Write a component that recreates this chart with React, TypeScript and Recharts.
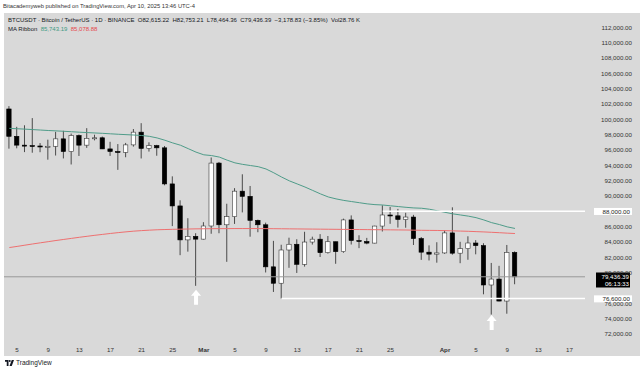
import React from 'react'
import { ComposedChart, Bar, Line, XAxis, YAxis, ReferenceLine, ReferenceDot } from 'recharts'

// daily candles, Feb 4 -> Apr 10 2025
const firstDay = '2025-02-04'
const open = [
  101328, 97763, 96612, 96554, 96500, 96444, 96462, 97430, 95778, 97870, 96608, 97500, 97569, 96118, 95780, 95671, 96644, 98305, 96181, 96551, 96258, 91552, 88680, 84250, 84708,
  84349, 86064, 94270, 86221, 87281, 90606, 89931, 86801, 86222, 80735, 78595, 82932, 83680, 81066, 83969, 84343, 82580, 84010, 82716, 86855, 84167, 84043, 83832, 86054, 87499, 87391, 86909, 87232, 84424, 82649, 82390,
  82550, 85159, 82516, 83102, 83844, 83504, 78368, 79140, 76271, 82615,
]
const high = [
  101700, 99000, 99200, 100137, 96880, 97323, 98345, 98478, 98119, 98000, 98826, 97970, 97732, 97046, 96753, 96899, 98711, 99475, 96980, 96650, 96500, 92540, 89414, 87078, 85120,
  86558, 95000, 94416, 88967, 91000, 92810, 91283, 86897, 86500, 84123, 83617, 84539, 84336, 85309, 84672, 85000, 84756, 84021, 87021, 87443, 84850, 84513, 86094, 88765, 88542, 88292, 87786, 87515, 84624, 83534, 83943,
  85487, 88500, 83998, 84720, 84220, 83818, 81243, 80867, 83588, 82753,
]
const low = [
  96150, 96200, 95700, 95620, 95688, 94713, 95256, 94876, 94088, 95200, 96252, 97233, 96101, 95205, 93388, 95029, 96415, 94871, 95770, 95227, 91371, 86050, 82256, 82716, 78258,
  84300, 85050, 85117, 81390, 86334, 87836, 84667, 85248, 80000, 77459, 76606, 80607, 79939, 80766, 83639, 82017, 82457, 81134, 82569, 83647, 83175, 83675, 83795, 85346, 86346, 85861, 85837, 83585, 81644, 81565, 81278,
  82433, 82320, 81211, 81659, 82368, 77153, 74508, 76239, 74620, 78464,
]
const close = [
  97763, 96612, 96554, 96500, 96444, 96462, 97430, 95778, 97870, 96608, 97500, 97569, 96118, 95780, 95671, 96644, 98305, 96181, 96551, 96258, 91552, 88680, 84250, 84708, 84349,
  86064, 94270, 86221, 87281, 90606, 89931, 86801, 86222, 80735, 78595, 82932, 83680, 81066, 83969, 84343, 82580, 84010, 82716, 86855, 84167, 84043, 83832, 86054, 87499, 87391, 86909, 87232, 84424, 82649, 82390, 82550,
  85159, 82516, 83102, 83843, 83504, 78368, 79140, 76271, 82615, 79436,
]
// MA ribbon
const maFast = [
  98800, 98750, 98700, 98640, 98580, 98520, 98470, 98420, 98360, 98300, 98250, 98200, 98150, 98090, 98030, 97980, 97930, 97870, 97760, 97550, 97250, 96900, 96600, 96150, 95700,
  95350, 95250, 95050, 94650, 94300, 94100, 93950, 93800, 93500, 93000, 92450, 91950, 91550, 91150, 90700, 90250, 89850, 89600, 89400, 89250, 89100, 88950, 88850, 88800, 88700, 88600, 88500, 88420, 88380, 88250, 88050,
  87850, 87650, 87500, 87350, 87150, 86850, 86500, 86250, 85950, 85743,
]
const maSlow = [
  83250, 83400, 83560, 83720, 83870, 84020, 84170, 84310, 84450, 84590, 84720, 84850, 84970, 85090, 85200, 85300, 85390, 85460, 85520, 85570, 85600, 85630, 85650, 85670, 85690,
  85700, 85710, 85720, 85720, 85730, 85730, 85730, 85730, 85720, 85710, 85700, 85690, 85680, 85670, 85660, 85650, 85640, 85630, 85620, 85610, 85600, 85590, 85580, 85570, 85560, 85550, 85540, 85520, 85500, 85490, 85480,
  85460, 85430, 85400, 85370, 85330, 85290, 85240, 85190, 85130, 85079,
]

const tickDates = ['2025-02-05', '2025-02-09', '2025-02-13', '2025-02-17', '2025-02-21', '2025-02-25', '2025-03-01', '2025-03-05', '2025-03-09', '2025-03-13', '2025-03-17', '2025-03-21', '2025-03-25', '2025-04-01', '2025-04-05', '2025-04-09', '2025-04-13', '2025-04-17']
const tickLabels = ['5', '9', '13', '17', '21', '25', 'Mar', '5', '9', '13', '17', '21', '25', 'Apr', '5', '9', '13', '17']
const priceTicks = [72000, 74000, 76000, 78000, 80000, 82000, 84000, 86000, 88000, 90000, 92000, 94000, 96000, 98000, 100000, 102000, 104000, 106000, 108000, 110000, 112000]
// ticks hidden under the price tags on the scale
const coveredTicks = [78000, 88000]

const lastPrice = 79436.39
const resistance = 88000
const support = 76600

const dayNo = (d: string) => (Date.parse(d) - Date.parse('2025-02-01')) / 86400000
const start = dayNo(firstDay)

const data = open.map((o, i) => ({
  day: start + i,
  open: o,
  high: high[i],
  low: low[i],
  close: close[i],
  range: [low[i], high[i]],
  maFast: maFast[i],
  maSlow: maSlow[i],
}))

const xTicks = tickDates.map(dayNo)
const labelFor: Record<number, string> = {}
xTicks.forEach((t, i) => (labelFor[t] = tickLabels[i]))

const font = '"Liberation Sans", Arial, sans-serif'
const fmt = (v: number) => v.toLocaleString('en-US', { minimumFractionDigits: 2, maximumFractionDigits: 2 })

const Candle = (props: any) => {
  const { x, y, width, height, payload } = props
  if (!payload || payload.high == null) return null
  const k = height / (payload.high - payload.low || 1)
  const cx = x + width / 2
  const top = Math.max(payload.open, payload.close)
  const bot = Math.min(payload.open, payload.close)
  const bodyY = y + (payload.high - top) * k
  const bodyH = Math.max((top - bot) * k, 1)
  const up = payload.close >= payload.open
  return (
    <g>
      <line x1={cx} x2={cx} y1={y} y2={y + height} stroke="#4a4a4a" strokeWidth={1} />
      <rect
        x={x + 0.3}
        y={bodyY}
        width={width - 0.6}
        height={bodyH}
        fill={up ? '#ffffff' : '#000000'}
        stroke={up ? '#3a3a3a' : '#000000'}
        strokeWidth={0.6}
      />
    </g>
  )
}

const XTick = (props: any) => {
  const { x, y, payload } = props
  const label = labelFor[payload.value]
  const month = label === 'Mar' || label === 'Apr'
  return (
    <text x={x} y={y + 8} textAnchor="middle" dominantBaseline="central" fontSize={6.2} fontWeight={month ? 600 : 400} fill="#333" fontFamily={font}>
      {label}
    </text>
  )
}

const YTick = (props: any) => {
  const { y, payload } = props
  if (coveredTicks.includes(payload.value)) return null
  return (
    <text x={632} y={y} textAnchor="end" dominantBaseline="central" fontSize={6.2} fill="#333" fontFamily={font}>
      {fmt(payload.value)}
    </text>
  )
}

const PriceTag = (props: any) => {
  const { viewBox, value, sub, dark } = props
  if (!viewBox) return null
  const right = viewBox.x + viewBox.width
  const y = viewBox.y
  if (dark) {
    return (
      <g>
        <rect x={right + 11} y={y - 4.3} width={34} height={15} fill="#000" />
        <text x={right + 44} y={y - 0.3} textAnchor="end" dominantBaseline="central" fontSize={6.2} fill="#fff" fontFamily={font}>
          {fmt(value)}
        </text>
        <text x={right + 44} y={y + 6.8} textAnchor="end" dominantBaseline="central" fontSize={6.2} fill="#fff" fontFamily={font}>
          {sub}
        </text>
      </g>
    )
  }
  return (
    <g>
      <rect x={right + 9} y={y - 3.2} width={38} height={7} fill="#fff" />
      <text x={right + 45} y={y + 0.3} textAnchor="end" dominantBaseline="central" fontSize={6.2} fill="#222" fontFamily={font}>
        {fmt(value)}
      </text>
    </g>
  )
}

const Arrow = (props: any) => {
  const { cx, cy } = props
  return (
    <path
      d={`M${cx} ${cy - 8} L${cx + 5} ${cy - 2} L${cx + 2} ${cy - 2} L${cx + 2} ${cy + 7} L${cx - 2} ${cy + 7} L${cx - 2} ${cy - 2} L${cx - 5} ${cy - 2} Z`}
      fill="#ffffff"
    />
  )
}

export default function App() {
  return (
    <div style={{ position: 'relative', width: 640, height: 373, background: '#fff', overflow: 'hidden', fontFamily: font }}>
      <style>{'body{margin:0}'}</style>
      <div style={{ position: 'absolute', left: 3, top: 3, fontSize: 5.8, color: '#333', whiteSpace: 'nowrap' }}>
        Bitacademyweb published on TradingView.com, Apr 10, 2025 13:46 UTC-4
      </div>
      <div style={{ position: 'absolute', left: 4, top: 13, width: 636, height: 343, background: '#d9d9d9' }} />
      <div style={{ position: 'absolute', left: 8, top: 16.5, fontSize: 6, color: '#131722', whiteSpace: 'nowrap', zIndex: 2 }}>
        BTCUSDT · Bitcoin / TetherUS · 1D · BINANCE&nbsp; O82,615.22&nbsp; H82,753.21&nbsp; L78,464.36&nbsp; C79,436.39&nbsp; −3,178.83 (−3.85%)&nbsp; Vol28.76 K
      </div>
      <div style={{ position: 'absolute', left: 8, top: 25.5, fontSize: 6, color: '#131722', whiteSpace: 'nowrap', zIndex: 2 }}>
        MA Ribbon&nbsp; <span style={{ color: '#3f9a82' }}>85,743.19</span>&nbsp; <span style={{ color: '#e5484d' }}>85,078.88</span>
      </div>
      <div style={{ position: 'absolute', left: 0, top: 0 }}>
        <ComposedChart width={640} height={373} data={data} margin={{ top: 13, right: 0, bottom: 17, left: 4 }}>
          <XAxis
            dataKey="day"
            type="number"
            domain={[2.316, 77.0]}
            allowDataOverflow
            ticks={xTicks}
            interval={0}
            tick={<XTick />}
            tickLine={false}
            axisLine={false}
            tickSize={0}
            tickMargin={0}
            height={15}
          />
          <YAxis
            orientation="right"
            type="number"
            domain={[71061, 113848]}
            allowDataOverflow
            ticks={priceTicks}
            interval={0}
            tick={<YTick />}
            tickLine={false}
            axisLine={false}
            width={55}
          />
          <Line dataKey="maSlow" stroke="#ee7070" strokeWidth={1} dot={false} isAnimationActive={false} />
          <Line dataKey="maFast" stroke="#4f9c89" strokeWidth={1} dot={false} isAnimationActive={false} />
          <Bar dataKey="range" barSize={5} shape={<Candle />} isAnimationActive={false} />
          <ReferenceLine y={lastPrice} stroke="#9a9a9a" strokeWidth={1} label={<PriceTag value={lastPrice} sub="06:13:33" dark />} />
          <ReferenceLine
            segment={[{ x: dayNo('2025-03-24'), y: resistance }, { x: 77.0, y: resistance }]}
            stroke="#ffffff"
            strokeWidth={1.5}
            label={<PriceTag value={resistance} />}
          />
          <ReferenceLine
            segment={[{ x: dayNo('2025-03-11'), y: support }, { x: 77.0, y: support }]}
            stroke="#ffffff"
            strokeWidth={1.5}
            label={<PriceTag value={support} />}
          />
          <ReferenceDot x={dayNo('2025-02-28')} y={76700} r={0} shape={<Arrow />} />
          <ReferenceDot x={dayNo('2025-04-07')} y={73400} r={0} shape={<Arrow />} />
        </ComposedChart>
      </div>
      <div style={{ position: 'absolute', left: 5, top: 359, display: 'flex', alignItems: 'center', gap: 2 }}>
        <svg width={9} height={6} viewBox="0 0 36 24">
          <path d="M0 0 H14 V24 H7 V7 H0 Z" fill="#131722" />
          <circle cx={19} cy={4} r={4} fill="#131722" />
          <path d="M27 0 H36 L27 24 H18 Z" fill="#131722" />
        </svg>
        <span style={{ fontSize: 6.5, color: '#131722' }}>TradingView</span>
      </div>
    </div>
  )
}
